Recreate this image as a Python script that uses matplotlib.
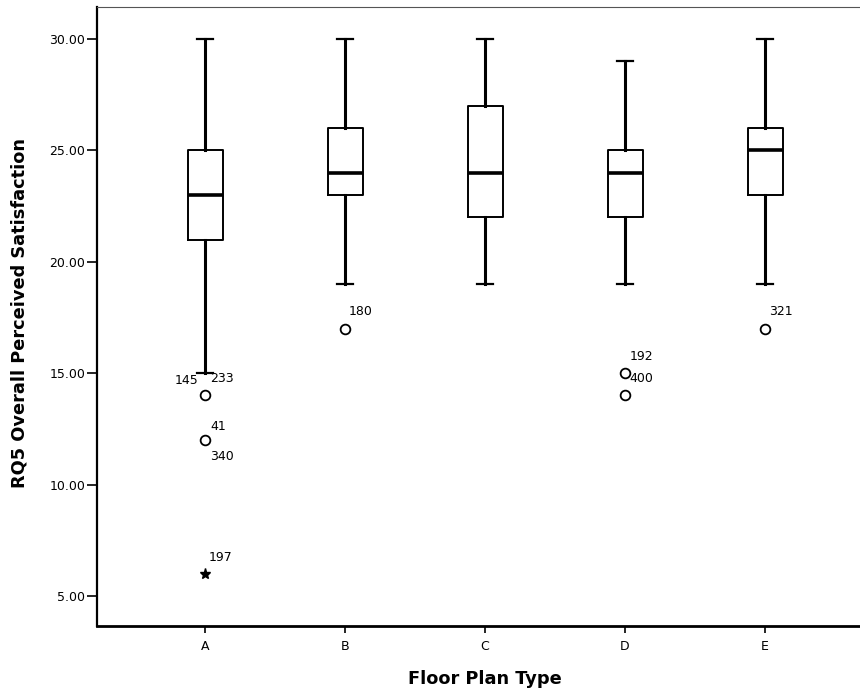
import matplotlib
matplotlib.use("Agg")
import matplotlib.pyplot as plt

plt.rcParams['font.family'] = ['DejaVu Sans']

categories = ["A", "B", "C", "D", "E"]
whislo = [15, 19, 19, 19, 19]
q1 = [21, 23, 22, 22, 23]
med = [23, 24, 24, 24, 25]
q3 = [25, 26, 27, 25, 26]
whishi = [30, 30, 30, 29, 30]
outlier_vals = [[14, 12], [17], [], [15, 14], [17]]
extreme_vals = [[6], [], [], [], []]
# (category index, value, label, dx, dy) offsets in points
outlier_labels = [
    (0, 14, "145", -5, 11, 'right'), (0, 14, "233", 3.5, 12, 'left'),
    (0, 12, "41", 4, 10, 'left'), (0, 12, "340", 3.5, -11.5, 'left'),
    (0, 6, "197", 3, 11.5, 'left'),
    (1, 17, "180", 3, 12, 'left'),
    (3, 15, "192", 3.5, 12, 'left'), (3, 15, "400", 3.5, -3.5, 'left'),
    (4, 17, "321", 3, 12, 'left'),
]
yticks = [5, 10, 15, 20, 25, 30]

fig = plt.figure(figsize=(8.6, 6.9), dpi=100)
ax = fig.add_axes([97 / 860, 64 / 690, 1 - 97 / 860, (626 - 7) / 690])

stats = []
for i, c in enumerate(categories):
    stats.append(dict(label=c, whislo=whislo[i], q1=q1[i], med=med[i],
                      q3=q3[i], whishi=whishi[i], fliers=[]))
positions = list(range(1, len(categories) + 1))
ax.bxp(stats, positions=positions, widths=0.25, capwidths=0.12, showfliers=False,
       boxprops=dict(color='black', linewidth=1.4),
       medianprops=dict(color='black', linewidth=2.6, solid_capstyle='butt'),
       whiskerprops=dict(color='black', linewidth=2.2),
       capprops=dict(color='black', linewidth=1.6))
for i, p in enumerate(positions):
    for v in outlier_vals[i]:
        ax.plot(p, v, marker='o', mfc='white', mec='black', ms=7, mew=1.3, ls='none', zorder=4)
    for v in extreme_vals[i]:
        ax.plot(p, v, marker='*', color='black', ms=8, ls='none', zorder=4)
for ci, v, t, dx, dy, ha in outlier_labels:
    ax.annotate(t, (positions[ci], v), xytext=(dx, dy), textcoords='offset points',
                fontsize=9, ha=ha, va='center')

ax.set_xlim(1 - 108 / 140, 1 + (860 - 205) / 140)
ax.set_ylim(5 - 30 / 22.28, 30 + 32 / 22.28)
ax.set_yticks(yticks)
ax.set_yticklabels([f"{v:.2f}" for v in yticks], fontsize=9)
ax.set_xticks(positions)
ax.set_xticklabels(categories, fontsize=9)
ax.spines['right'].set_visible(False)
ax.spines['top'].set_linewidth(0.8)
ax.spines['top'].set_color('#555555')
ax.spines['left'].set_linewidth(1.6)
ax.spines['bottom'].set_linewidth(2.0)
ax.tick_params(axis='y', length=7, width=1.2, pad=1.5)
ax.tick_params(axis='x', length=5, width=1.2, pad=5)

fig.text(20 / 860, 1 - 313 / 690, "RQ5 Overall Perceived Satisfaction", rotation=90,
         fontsize=12.8, fontweight='bold', ha='center', va='center')
fig.text(484.5 / 860, 1 - 679 / 690, "Floor Plan Type",
         fontsize=12.8, fontweight='bold', ha='center', va='center')

fig.savefig("out.png", dpi=100)
